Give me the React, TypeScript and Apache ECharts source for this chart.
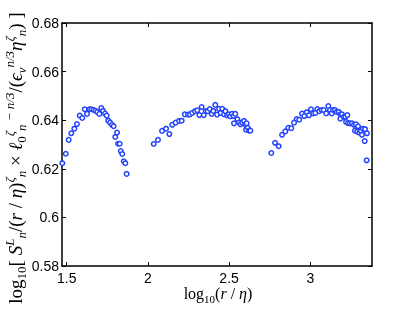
import React, { useEffect, useRef } from "react";
import * as echarts from "echarts";

// Cluster 1
const xA = [1.473, 1.494, 1.512, 1.528, 1.547, 1.563, 1.58, 1.596, 1.611, 1.625, 1.639, 1.651, 1.664, 1.676, 1.688, 1.701, 1.713, 1.724, 1.736, 1.746, 1.756, 1.767, 1.779, 1.789, 1.81, 1.799, 1.816, 1.826, 1.833, 1.842, 1.851, 1.861, 1.869];
const yA = [0.6223, 0.6262, 0.6319, 0.6346, 0.6365, 0.6384, 0.6419, 0.6409, 0.6445, 0.6426, 0.6445, 0.6445, 0.6443, 0.6439, 0.6434, 0.6426, 0.645, 0.6438, 0.6427, 0.6419, 0.6398, 0.639, 0.6381, 0.6375, 0.6349, 0.6331, 0.6303, 0.6303, 0.6273, 0.6261, 0.6231, 0.6223, 0.6179];
// Cluster 2
const xB = [2.036, 2.062, 2.087, 2.112, 2.132, 2.15, 2.171, 2.192, 2.208, 2.227, 2.247, 2.259, 2.273, 2.29, 2.304, 2.317, 2.331, 2.344, 2.356, 2.368, 2.381, 2.393, 2.403, 2.415, 2.426, 2.438, 2.448, 2.458, 2.469, 2.477, 2.487, 2.498, 2.507, 2.518, 2.528, 2.538, 2.53, 2.551, 2.561, 2.571, 2.581, 2.592, 2.6, 2.608, 2.604, 2.615, 2.623, 2.631];
const yB = [0.6302, 0.6319, 0.6356, 0.6365, 0.6343, 0.6381, 0.639, 0.6397, 0.6398, 0.6424, 0.6423, 0.6424, 0.643, 0.6437, 0.6441, 0.6421, 0.6454, 0.6421, 0.6437, 0.6437, 0.6446, 0.6426, 0.6438, 0.6463, 0.6423, 0.6447, 0.643, 0.6447, 0.6424, 0.6437, 0.642, 0.6424, 0.6416, 0.6426, 0.6417, 0.6426, 0.6387, 0.6404, 0.639, 0.6383, 0.639, 0.6397, 0.6383, 0.6387, 0.6361, 0.6369, 0.6357, 0.6357];
// Cluster 3
const xC = [2.76, 2.783, 2.805, 2.826, 2.846, 2.865, 2.883, 2.9, 2.916, 2.932, 2.949, 2.963, 2.978, 2.992, 3.004, 3.018, 3.031, 3.043, 3.055, 3.07, 3.082, 3.098, 3.111, 3.121, 3.132, 3.14, 3.152, 3.163, 3.175, 3.185, 3.195, 3.185, 3.206, 3.216, 3.228, 3.22, 3.232, 3.244, 3.257, 3.269, 3.281, 3.294, 3.275, 3.289, 3.302, 3.312, 3.324, 3.337, 3.349, 3.318, 3.335, 3.347];
const yC = [0.6265, 0.6307, 0.6293, 0.634, 0.6354, 0.6369, 0.6367, 0.639, 0.6405, 0.6402, 0.6427, 0.6417, 0.6433, 0.642, 0.6445, 0.6428, 0.643, 0.6446, 0.6437, 0.6442, 0.6442, 0.6428, 0.6458, 0.6442, 0.6428, 0.6442, 0.6442, 0.6434, 0.6434, 0.6424, 0.6424, 0.6406, 0.6414, 0.6414, 0.6421, 0.6393, 0.6388, 0.6387, 0.6387, 0.6381, 0.6383, 0.6375, 0.6357, 0.6353, 0.6349, 0.6356, 0.6365, 0.6363, 0.6346, 0.634, 0.6314, 0.6235];

const xTicks = [1.5, 2, 2.5, 3];
const xMin = 1.471;
const xMax = 3.38;
const yMin = 0.58;
const yMax = 0.68;
const yStep = 0.02;

export default function App() {
  const ref = useRef<HTMLDivElement>(null);
  useEffect(() => {
    if (!ref.current) return;
    const chart = echarts.init(ref.current, null, { renderer: "svg" });
    const pts: number[][] = [];
    [[xA, yA], [xB, yB], [xC, yC]].forEach(([xs, ys]) => {
      xs.forEach((x, i) => pts.push([x, ys[i]]));
    });
    const tickFont = { fontFamily: "Liberation Sans, Arial, sans-serif", fontSize: 14, color: "#000" };
    const axisLine = { show: true, onZero: false, lineStyle: { color: "#000", width: 1.5 } };
    const ff = "Liberation Serif, serif";
    const mk = (fs: number, sfs: number) => {
      const main = { fontFamily: ff, fontSize: fs, lineHeight: fs + 6, verticalAlign: "middle" };
      const sup = { fontFamily: ff, fontSize: sfs, lineHeight: sfs, verticalAlign: "top" };
      const sub = { fontFamily: ff, fontSize: sfs, lineHeight: sfs, verticalAlign: "bottom" };
      return {
        m: main, i: { ...main, fontStyle: "italic" },
        p: sup, pi: { ...sup, fontStyle: "italic" },
        s: sub, si: { ...sub, fontStyle: "italic" },
      };
    };
    chart.setOption({
      animation: false,
      grid: { left: 62, right: 39, top: 23, bottom: 48 },
      xAxis: [
        {
          type: "value", min: xMin, max: xMax, position: "bottom",
          axisLine, splitLine: { show: false },
          axisTick: { show: true, inside: true, length: 4, customValues: xTicks, lineStyle: { color: "#000" } },
          axisLabel: { show: true, customValues: xTicks, margin: 5, formatter: (v: number) => String(v), ...tickFont },
        },
        {
          type: "value", min: xMin, max: xMax, position: "top",
          axisLine, splitLine: { show: false },
          axisTick: { show: true, inside: true, length: 4, customValues: xTicks, lineStyle: { color: "#000" } },
          axisLabel: { show: false },
        },
      ],
      yAxis: [
        {
          type: "value", min: yMin, max: yMax, interval: yStep, position: "left",
          axisLine, splitLine: { show: false },
          axisTick: { show: true, inside: true, length: 4, lineStyle: { color: "#000" } },
          axisLabel: { show: true, margin: 3, formatter: (v: number) => String(parseFloat(v.toFixed(2))), ...tickFont },
        },
        {
          type: "value", min: yMin, max: yMax, interval: yStep, position: "right",
          axisLine, splitLine: { show: false },
          axisTick: { show: true, inside: true, length: 4, lineStyle: { color: "#000" } },
          axisLabel: { show: false },
        },
      ],
      series: [
        {
          type: "scatter",
          data: pts,
          symbol: "circle",
          symbolSize: 4.5,
          itemStyle: { color: "#ffffff", borderColor: "#2242ff", borderWidth: 1.5, opacity: 1 },
        },
      ],
      graphic: [
        {
          type: "text",
          x: 218, y: 293,
          style: {
            text: "{m|log}{s|10}{m|(}{i|r }{m|/}{i| η}{m|)}",
            rich: mk(16, 11),
            align: "center",
            verticalAlign: "middle",
            fill: "#000",
          },
        },
        {
          type: "text",
          x: 15, y: 158,
          rotation: Math.PI / 2,
          style: {
            text: "{m|log}{s|10}{m|[ }{i|S}{pi|L}{si|n}{m|/(}{i|r }{m|/}{i| η}{m|)}{pi|ζ}{si|n}{m| × }{i|ℓ}{s|0}{pi|ζ}{si|n}{pi| − n/3}{m|/(}{i|ϵ}{si|v}{pi|n/3}{i|η}{pi|ζ}{si|n}{m|) ]}",
            rich: mk(19, 13),
            align: "center",
            verticalAlign: "middle",
            fill: "#000",
          },
        },
      ],
    });
    return () => chart.dispose();
  }, []);
  return <div ref={ref} style={{ position: "fixed", left: 0, top: 0, width: 411, height: 314 }} />;
}
